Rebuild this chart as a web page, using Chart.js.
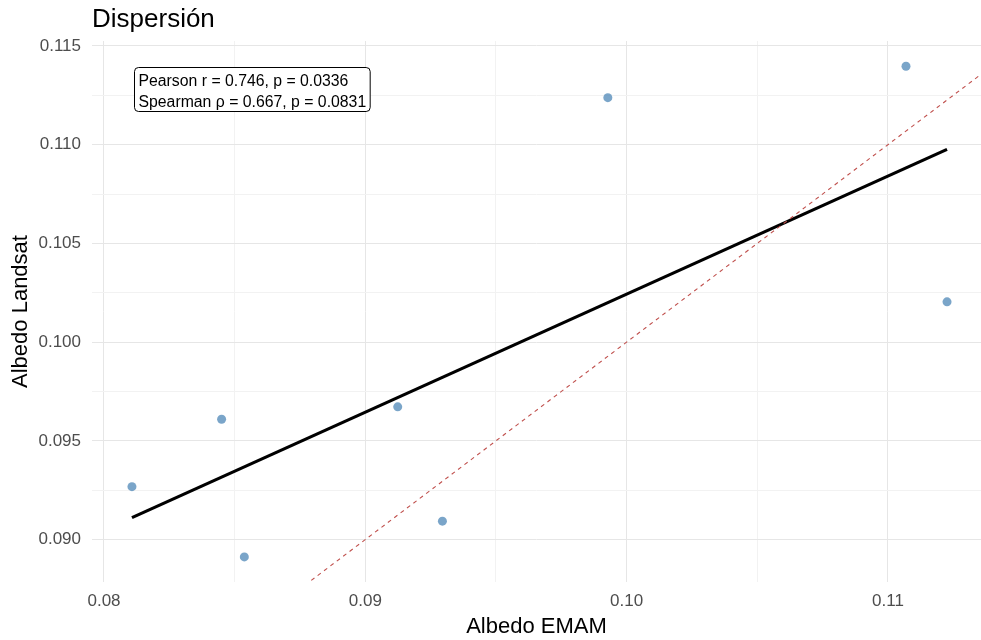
<!DOCTYPE html>
<html><head><meta charset="utf-8">
<script src="https://cdn.jsdelivr.net/npm/chart.js@4/dist/chart.umd.min.js"></script>
<style>html,body{margin:0;padding:0;background:#fff}#wrap{width:981px;height:640px;position:relative}</style>
</head><body><div id="wrap"><canvas id="c"></canvas></div>
<script>
const chartTitle = 'Dispersión';
const xTitle = 'Albedo EMAM';
const yTitle = 'Albedo Landsat';
const emamX = [0.08107, 0.08450, 0.08537, 0.09124, 0.09295, 0.09928, 0.11069, 0.11226];
const landsatY = [0.09268, 0.09609, 0.08912, 0.09672, 0.09093, 0.11238, 0.11397, 0.10204];
const fitX = [0.08107, 0.11226];
const fitY = [0.09111, 0.10976];
const identityX = [0.085, 0.115];
const identityY = [0.085, 0.115];
const xTicks = [0.08, 0.085, 0.09, 0.095, 0.10, 0.105, 0.11];
const xMajor = [0.08, 0.09, 0.10, 0.11];
const xTickLabels = ['0.08', '0.09', '0.10', '0.11'];
const yTicks = [0.09, 0.0925, 0.095, 0.0975, 0.10, 0.1025, 0.105, 0.1075, 0.11, 0.1125, 0.115];
const yMajor = [0.09, 0.095, 0.10, 0.105, 0.11, 0.115];
const yTickLabels = ['0.090', '0.095', '0.100', '0.105', '0.110', '0.115'];
const statLines = ['Pearson r = 0.746, p = 0.0336', 'Spearman ρ = 0.667, p = 0.0831'];

const FONT = "'Liberation Sans', Arial, sans-serif";
function idx(v, list) { for (let i = 0; i < list.length; i++) if (Math.abs(v - list[i]) < 1e-9) return i; return -1; }
const zip = (xs, ys) => xs.map((x, i) => ({ x: x, y: ys[i] }));

const overlay = {
  id: 'overlay',
  afterDatasetsDraw(chart) {
    const ctx = chart.ctx, xs = chart.scales.x, ys = chart.scales.y;
    ctx.save();
    ctx.font = '15.8px ' + FONT;
    const pad = 4;
    const w = Math.max(...statLines.map(t => ctx.measureText(t).width)) + pad * 2;
    const h = 44;
    const x0 = Math.round(xs.getPixelForValue(0.08113)), y0 = Math.round(ys.getPixelForValue(0.11394));
    ctx.beginPath();
    ctx.roundRect(x0 + 0.5, y0 + 0.5, w, h, 4);
    ctx.fillStyle = '#fff'; ctx.fill();
    ctx.lineWidth = 1; ctx.strokeStyle = '#000'; ctx.stroke();
    ctx.fillStyle = '#000'; ctx.textBaseline = 'alphabetic'; ctx.textAlign = 'left';
    ctx.fillText(statLines[0], x0 + pad + 0.5, y0 + 18.5);
    ctx.fillText(statLines[1], x0 + pad + 0.5, y0 + 39.5);
    ctx.restore();
  },
  afterDraw(chart) {
    const ctx = chart.ctx;
    ctx.save();
    ctx.font = '26px ' + FONT;
    ctx.fillStyle = '#000'; ctx.textBaseline = 'alphabetic'; ctx.textAlign = 'left';
    ctx.fillText(chartTitle, 92, 27);
    ctx.restore();
  }
};

new Chart(document.getElementById('c'), {
  type: 'scatter',
  data: {
    datasets: [
      { type: 'line', data: zip(identityX, identityY), borderColor: '#c0504d', borderWidth: 1.1, borderDash: [4, 4], pointRadius: 0, fill: false },
      { type: 'line', data: zip(fitX, fitY), borderColor: '#000', borderWidth: 3.2, pointRadius: 0, fill: false },
      { data: zip(emamX, landsatY), backgroundColor: 'rgba(70,130,180,0.72)', borderWidth: 0, pointRadius: 4.5, pointHoverRadius: 4.5 }
    ]
  },
  options: {
    responsive: true, maintainAspectRatio: false, animation: false,
    layout: { autoPadding: false, padding: { top: 41, left: 0, right: 0, bottom: 0 } },
    plugins: { legend: { display: false }, tooltip: { enabled: false } },
    scales: {
      x: {
        type: 'linear', min: 0.079541, max: 0.11356,
        afterBuildTicks: s => { s.ticks = xTicks.map(v => ({ value: v })); },
        afterFit: s => { s.height = 58; },
        border: { display: false },
        grid: { drawTicks: false, color: c => idx(c.tick.value, xMajor) >= 0 ? '#e6e6e6' : '#f2f2f2', lineWidth: 1 },
        ticks: { autoSkip: false, maxRotation: 0, padding: 9, color: '#4d4d4d', font: { family: FONT, size: 17 },
          callback: v => { const i = idx(v, xMajor); return i >= 0 ? xTickLabels[i] : ''; } },
        title: { display: true, text: xTitle, color: '#000', font: { family: FONT, size: 22 }, padding: { top: 0, bottom: 0 } }
      },
      y: {
        type: 'linear', min: 0.08785, max: 0.11525,
        afterBuildTicks: s => { s.ticks = yTicks.map(v => ({ value: v })); },
        afterFit: s => { s.width = 92; },
        border: { display: false },
        grid: { drawTicks: false, color: c => idx(c.tick.value, yMajor) >= 0 ? '#e6e6e6' : '#f2f2f2', lineWidth: 1 },
        ticks: { autoSkip: false, padding: 11, color: '#4d4d4d', font: { family: FONT, size: 17 },
          callback: v => { const i = idx(v, yMajor); return i >= 0 ? yTickLabels[i] : ''; } },
        title: { display: true, text: yTitle, color: '#000', font: { family: FONT, size: 22 }, padding: { top: 8, bottom: 0 } }
      }
    }
  },
  plugins: [overlay]
});
</script></body></html>
